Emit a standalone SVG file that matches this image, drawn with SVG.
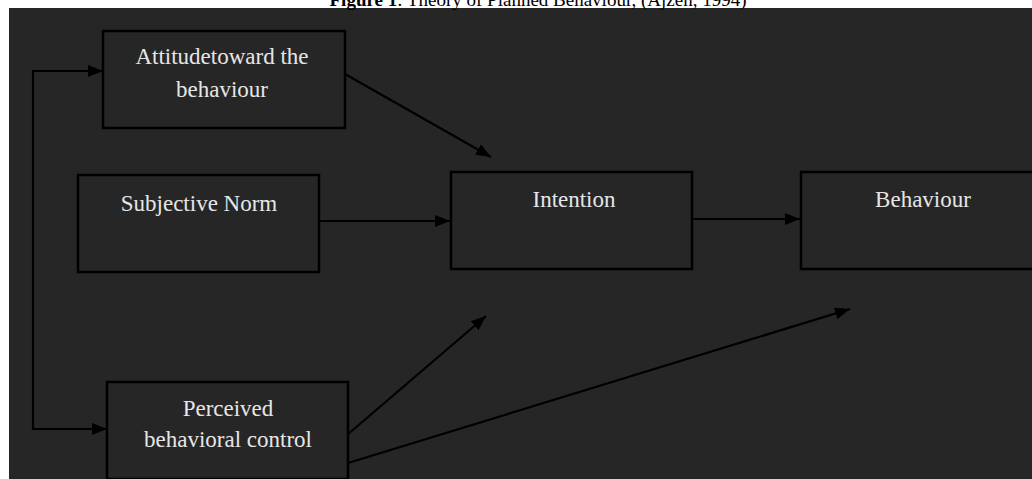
<svg xmlns="http://www.w3.org/2000/svg" width="1032" height="479" viewBox="0 0 1032 479">
<style>
.box{fill:#262626;stroke:#000;stroke-width:2.5}
.lbl{font-family:"Liberation Serif","Times New Roman",serif;font-size:23px;fill:#e6e6e6;text-anchor:middle}
.ttl{font-family:"Liberation Serif","Times New Roman",serif;font-size:19px;fill:#000;text-anchor:middle}
.con{fill:none;stroke:#000;stroke-width:2.2}
</style>
<defs>
<marker id="ah" viewBox="0 0 15 12" refX="15" refY="6" markerWidth="15" markerHeight="12" markerUnits="userSpaceOnUse" orient="auto-start-reverse">
<path d="M0,0 L15,6 L0,12 Z" fill="#000"/>
</marker>
</defs>
<rect x="0" y="0" width="1032" height="479" fill="#fff"/>
<rect x="9" y="8" width="1023" height="471" fill="#262626"/>
<text class="ttl" x="538" y="6"><tspan font-weight="bold">Figure 1</tspan>: Theory of Planned Behaviour, (Ajzen, 1994)</text>
<g id="connectors">
<path class="con" d="M103,71 H33 V429 H107" marker-start="url(#ah)" marker-end="url(#ah)"/>
<path class="con" d="M345,74 L491,157" marker-end="url(#ah)"/>
<path class="con" d="M319,221 L450,221" marker-end="url(#ah)"/>
<path class="con" d="M692,219 L800,219" marker-end="url(#ah)"/>
<path class="con" d="M347,435 L486,316" marker-end="url(#ah)"/>
<path class="con" d="M348,463 L850,309" marker-end="url(#ah)"/>
</g>
<g id="attitude">
<rect class="box" x="103" y="31" width="242" height="97"/>
<text class="lbl" x="222" y="64">Attitudetoward the</text>
<text class="lbl" x="222" y="97">behaviour</text>
</g>
<g id="subjective-norm">
<rect class="box" x="78" y="175" width="241" height="97"/>
<text class="lbl" x="199" y="211">Subjective Norm</text>
</g>
<g id="intention">
<rect class="box" x="451" y="172" width="241" height="97"/>
<text class="lbl" x="574" y="207">Intention</text>
</g>
<g id="behaviour">
<rect class="box" x="801" y="172" width="241" height="97"/>
<text class="lbl" x="923" y="207">Behaviour</text>
</g>
<g id="perceived">
<rect class="box" x="107" y="382" width="241" height="97"/>
<text class="lbl" x="228" y="416">Perceived</text>
<text class="lbl" x="228" y="447">behavioral control</text>
</g>
</svg>
